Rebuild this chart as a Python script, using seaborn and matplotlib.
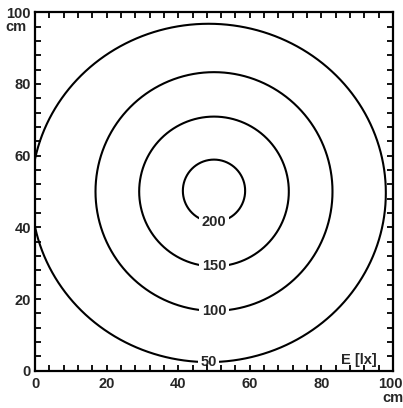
import numpy as np
import pandas as pd
import matplotlib
matplotlib.use("Agg")
import matplotlib.pyplot as plt
import matplotlib.transforms as mtransforms
import seaborn as sns
from matplotlib.ticker import MultipleLocator

# Contour data (illuminance E [lx])
levels = [200, 150, 100, 50]
centre_x = [50.0, 50.0, 50.0, 48.5]
centre_y = [50.2, 50.0, 50.0, 49.6]
half_width = [8.7, 20.9, 33.1, 49.5]
half_height = [8.7, 20.9, 33.3, 47.2]

x_ticks = [0, 20, 40, 60, 80, 100]
y_ticks = [0, 20, 40, 60, 80, 100]

sns.set_style("ticks")
plt.rcParams['font.family'] = ['Liberation Sans', 'DejaVu Sans']
plt.rcParams['font.weight'] = 'bold'

fig = plt.figure(figsize=(4.03, 4.08), dpi=100)
ax = fig.add_axes([35 / 403, 1 - 370.7 / 408, 358 / 403, 358.4 / 408])

t = np.linspace(0, 2 * np.pi, 721)
rows = []
for lev, cx, cy, a, b in zip(levels, centre_x, centre_y, half_width, half_height):
    rows.append(pd.DataFrame({"x": cx + a * np.cos(t), "y": cy + b * np.sin(t), "level": lev}))
df = pd.concat(rows, ignore_index=True)

for lev in levels:
    d = df[df["level"] == lev]
    sns.lineplot(data=d, x="x", y="y", sort=False, estimator=None, color="black",
                 linewidth=1.5, ax=ax, legend=False, solid_capstyle="butt",
                 solid_joinstyle="round")

for lev, cx, cy, a, b in zip(levels, centre_x, centre_y, half_width, half_height):
    ax.text(cx + 0.0, cy - b, str(lev), ha="center", va="center", fontsize=10.5,
            fontweight="bold", zorder=2.1,
            bbox=dict(facecolor="white", edgecolor="none", pad=1.8))

ax.set_xlim(0, 100)
ax.set_ylim(0, 100)
ax.set_xticks(x_ticks)
ax.set_yticks(y_ticks)
ax.set_xticklabels([str(v) for v in x_ticks])
ax.set_yticklabels([str(v) for v in y_ticks])
ax.xaxis.set_minor_locator(MultipleLocator(4))
ax.yaxis.set_minor_locator(MultipleLocator(4))
ax.tick_params(which="both", direction="in", top=True, right=True, length=4.5, width=1.3,
               color="black")
ax.tick_params(axis="x", which="major", pad=4.5, labelsize=10.5)
ax.tick_params(axis="y", which="major", pad=3, labelsize=10.5)
for lab in ax.get_xticklabels() + ax.get_yticklabels():
    lab.set_fontweight("bold")
last = ax.get_xticklabels()[-1]
last.set_transform(last.get_transform() + mtransforms.ScaledTranslation(-3 / 100, 0, fig.dpi_scale_trans))
ax.set_axisbelow(False)
for s in ax.spines.values():
    s.set_visible(True)
    s.set_linewidth(1.6)
    s.set_color("black")
ax.set_xlabel("")
ax.set_ylabel("")

ax.text(-0.025, 0.958, "cm", transform=ax.transAxes, ha="right", va="center",
        fontsize=10.5, fontweight="bold")
ax.text(1.0, -0.076, "cm", transform=ax.transAxes, ha="center", va="center",
        fontsize=10.5, fontweight="bold")
ax.text(0.905, 0.03, "E [lx]", transform=ax.transAxes, ha="center", va="center",
        fontsize=10.5, fontweight="bold")

fig.savefig("out.png", dpi=100, facecolor="white")
